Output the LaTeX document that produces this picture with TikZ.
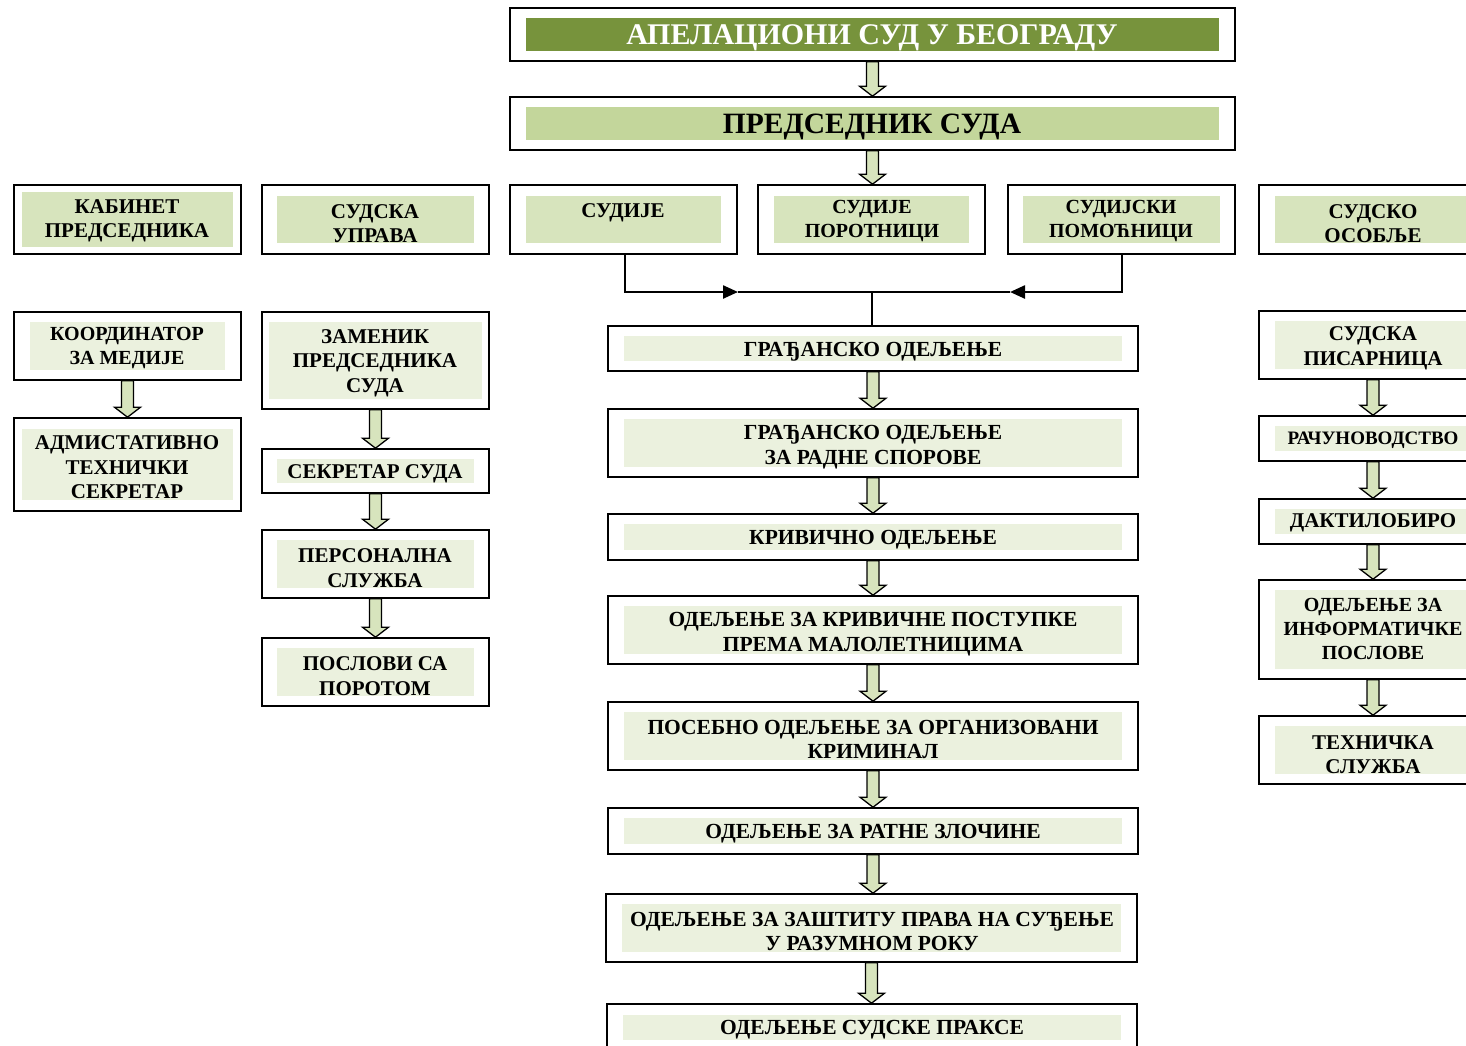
\documentclass[tikz,border=0pt]{standalone}
\usepackage{fontspec}
\setmainfont{Liberation Serif}
\usetikzlibrary{calc,arrows.meta,shadows}
\definecolor{hdr}{HTML}{77933C}
\definecolor{bar2}{HTML}{C3D69B}
\definecolor{fillA}{HTML}{D7E4BD}
\definecolor{fillB}{HTML}{EBF1DE}
\definecolor{arrfill}{HTML}{D7E4BD}
\tikzset{
  obox/.style={draw, line width=1.6pt, fill=white, inner sep=0pt,
    general shadow={fill=black!35, shadow xshift=1.2pt, shadow yshift=-1.2pt}},
  lbl/.style={font=\bfseries\fontsize{21}{24.5}\selectfont, align=center, inner sep=0pt, yshift=-2pt},
  lblc/.style={lbl, font=\bfseries\fontsize{21.5}{24.5}\selectfont},
  lbls/.style={lbl, font=\bfseries\fontsize{20}{24}\selectfont},
  barrow/.style={draw, fill=arrfill, line width=1.3pt, line join=miter},
  elbow/.style={line width=2.4pt},
  thinline/.style={line width=1.6pt},
}
\newcommand\unit[8]{%
  \node[obox, minimum width={(#4-#2)*1pt}, minimum height={(#5-#3)*1pt}] (#1) at ({(#2+#4)/2},{(#3+#5)/2}) {};
  \fill[#8] ($(#1.north west)+(#6,#7)$) rectangle ($(#1.south east)+(-#6,-#7)$);
}
\newcommand\blk[2]{%
  \draw[barrow] let \p1=(#1.south), \p2=(#2.north) in
    (\x1-6pt,\y1) -- (\x1-6pt,\y2+10pt) -- (\x1-13pt,\y2+10pt) -- (\x1,\y2)
    -- (\x1+13pt,\y2+10pt) -- (\x1+6pt,\y2+10pt) -- (\x1+6pt,\y1) -- cycle;
}
\begin{document}
\begin{tikzpicture}[x=1pt,y=-1pt]
\path[use as bounding box] (0,0) rectangle (1466,1045);
\clip (0,0) rectangle (1466,1045);
\fill[white] (0,0) rectangle (1466,1045);

% top
\unit{apel}{510}{8}{1235}{61}{17}{11}{hdr}
\node[lbl, font=\bfseries\fontsize{30}{32}\selectfont, text=white] (apel-t) at (872,36) {АПЕЛАЦИОНИ СУД У БЕОГРАДУ};
\unit{pred}{510}{97}{1235}{150}{17}{11}{bar2}
\node[lbl, font=\bfseries\fontsize{29.5}{32}\selectfont] (pred-t) at (872,125) {ПРЕДСЕДНИК СУДА};

% row
\unit{kab}{14}{185}{241}{254}{9}{8}{fillA}
\node[lbl] (kab-t) at (127,219) {КАБИНЕТ\\ПРЕДСЕДНИКА};
\unit{upr}{262}{185}{489}{254}{16}{12}{fillA}
\node[lbl] (upr-t) at (375,221.5) {СУДСКА\\УПРАВА};
\unit{sud}{510}{185}{737}{254}{17}{12}{fillA}
\node[lbl] (sud-t) at (623,211) {СУДИЈЕ};
\unit{por}{758}{185}{985}{254}{17}{12}{fillA}
\node[lbls] (por-t) at (872,219.5) {СУДИЈЕ\\ПОРОТНИЦИ};
\unit{pom}{1008}{185}{1235}{254}{16}{12}{fillA}
\node[lbls] (pom-t) at (1121,219.5) {СУДИЈСКИ\\ПОМОЋНИЦИ};
\unit{oso}{1259}{185}{1487}{254}{17}{12}{fillA}
\node[lbl] (oso-t) at (1373,221.5) {СУДСКО\\ОСОБЉЕ};

\blk{apel}{pred}
\blk{pred}{por}

% left column
\unit{koo}{14}{312}{241}{380}{17}{11}{fillB}
\node[lbls] (koo-t) at (127,346) {КООРДИНАТОР\\ЗА МЕДИЈЕ};
\unit{adm}{14}{418}{241}{511}{9}{12}{fillB}
\node[lbl] (adm-t) at (127,465.5) {АДМИСТАТИВНО\\ТЕХНИЧКИ\\СЕКРЕТАР};
\blk{koo}{adm}

% second column
\unit{zam}{262}{312}{489}{409}{8}{11}{fillB}
\node[lbl] (zam-t) at (375,361) {ЗАМЕНИК\\ПРЕДСЕДНИКА\\СУДА};
\unit{sek}{262}{449}{489}{493}{16}{11}{fillB}
\node[lbl] (sek-t) at (375,472) {СЕКРЕТАР СУДА};
\unit{per}{262}{530}{489}{598}{16}{11}{fillB}
\node[lbl] (per-t) at (375,566) {ПЕРСОНАЛНА\\СЛУЖБА};
\unit{pos}{262}{638}{489}{706}{16}{11}{fillB}
\node[lbl] (pos-t) at (375,674) {ПОСЛОВИ СА\\ПОРОТОМ};
\blk{zam}{sek}
\blk{sek}{per}
\blk{per}{pos}

% center column
\unit{c1}{608}{326}{1138}{371}{17}{11}{fillB}
\node[lblc] (c1-t) at (873,350) {ГРАЂАНСКО ОДЕЉЕЊЕ};
\unit{c2}{608}{409}{1138}{477}{17}{11}{fillB}
\node[lblc] (c2-t) at (873,445) {ГРАЂАНСКО ОДЕЉЕЊЕ\\ЗА РАДНЕ СПОРОВЕ};
\unit{c3}{608}{514}{1138}{560}{17}{11}{fillB}
\node[lblc] (c3-t) at (873,538) {КРИВИЧНО ОДЕЉЕЊЕ};
\unit{c4}{608}{596}{1138}{664}{17}{11}{fillB}
\node[lblc] (c4-t) at (873,632) {ОДЕЉЕЊЕ ЗА КРИВИЧНЕ ПОСТУПКЕ\\ПРЕМА МАЛОЛЕТНИЦИМА};
\unit{c5}{608}{702}{1138}{770}{17}{11}{fillB}
\node[lblc] (c5-t) at (873,737.5) {ПОСЕБНО ОДЕЉЕЊЕ ЗА ОРГАНИЗОВАНИ\\КРИМИНАЛ};
\unit{c6}{608}{808}{1138}{854}{17}{11}{fillB}
\node[lblc] (c6-t) at (873,832) {ОДЕЉЕЊЕ ЗА РАТНЕ ЗЛОЧИНЕ};
\unit{c7}{606}{894}{1137}{962}{17}{11}{fillB}
\node[lblc] (c7-t) at (872,929.5) {ОДЕЉЕЊЕ ЗА ЗАШТИТУ ПРАВА НА СУЂЕЊЕ\\У РАЗУМНОМ РОКУ};
\unit{c8}{607}{1004}{1137}{1051}{17}{12}{fillB}
\node[lblc] (c8-t) at (872,1028) {ОДЕЉЕЊЕ СУДСКЕ ПРАКСЕ};
\blk{c1}{c2}
\blk{c2}{c3}
\blk{c3}{c4}
\blk{c4}{c5}
\blk{c5}{c6}
\blk{c6}{c7}
\blk{c7}{c8}

% right column
\unit{pis}{1259}{311}{1487}{379}{17}{11}{fillB}
\node[lbl] (pis-t) at (1373,346.5) {СУДСКА\\ПИСАРНИЦА};
\unit{rac}{1259}{416}{1487}{461}{17}{11}{fillB}
\node[lbl, font=\bfseries\fontsize{19}{24}\selectfont] (rac-t) at (1373,438) {РАЧУНОВОДСТВО};
\unit{dak}{1259}{499}{1487}{544}{17}{11}{fillB}
\node[lbl] (dak-t) at (1373,521) {ДАКТИЛОБИРО};
\unit{inf}{1259}{580}{1487}{679}{17}{11}{fillB}
\node[lbls] (inf-t) at (1373,627) {ОДЕЉЕЊЕ ЗА\\ИНФОРМАТИЧКЕ\\ПОСЛОВЕ};
\unit{teh}{1259}{716}{1487}{784}{17}{11}{fillB}
\node[lbl] (teh-t) at (1373,752.5) {ТЕХНИЧКА\\СЛУЖБА};
\blk{pis}{rac}
\blk{rac}{dak}
\blk{dak}{inf}
\blk{inf}{teh}

% connectors judges -> departments
\coordinate (jl) at (738,292);
\coordinate (jr) at (1010,292);
\coordinate (jm) at (872,292);
\draw[elbow,-{Triangle[length=15pt,width=13pt]}] (sud.south -| 625,0) |- (jl);
\draw[elbow,-{Triangle[length=15pt,width=13pt]}] (pom.south -| 1122,0) |- (jr);
\draw[thinline] (jl) -- (jr);
\draw[thinline] (jm) -- (jm |- c1.north);
\end{tikzpicture}
\end{document}
